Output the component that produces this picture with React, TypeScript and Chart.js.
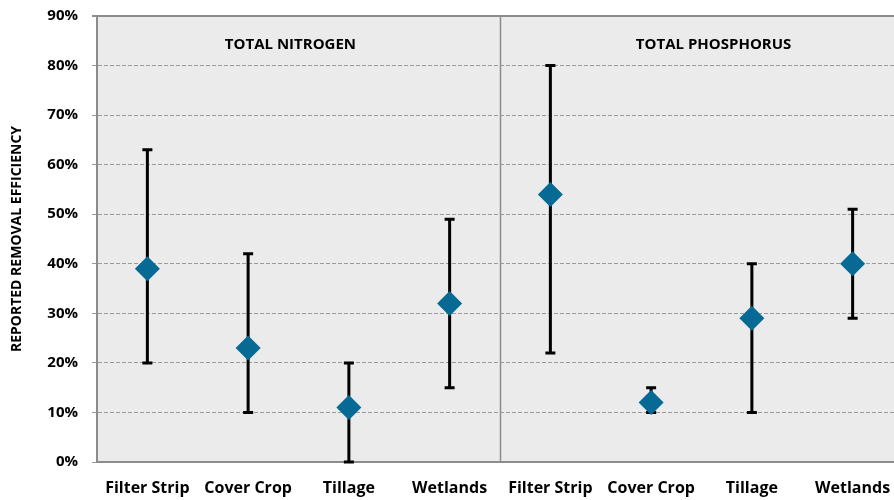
import React, { useEffect, useRef } from "react";
import { Chart, registerables } from "chart.js";

Chart.register(...registerables);

// Practices evaluated for each nutrient (nitrogen first, then phosphorus)
const categories = [
  "Filter Strip", "Cover Crop", "Tillage", "Wetlands",
  "Filter Strip", "Cover Crop", "Tillage", "Wetlands",
];
// Mean reported removal efficiency (%)
const means = [39, 23, 11, 32, 54, 12, 29, 40];
// Lower and upper ends of the reported range (%)
const lows = [20, 10, 0, 15, 22, 10, 10, 29];
const highs = [63, 42, 20, 49, 80, 15, 40, 51];
// Panel headings, one per group of four practices
const panelTitles = ["TOTAL NITROGEN", "TOTAL PHOSPHORUS"];
const groupSize = 4;

const FONT = "'Open Sans', 'Noto Sans', sans-serif";

const panelPlugin = {
  id: "panels",
  beforeDraw(chart: any) {
    const { ctx, chartArea: a } = chart;
    ctx.save();
    ctx.fillStyle = "#EBEBEB";
    ctx.fillRect(a.left, a.top, a.right - a.left, a.bottom - a.top);
    ctx.restore();
  },
  beforeDatasetsDraw(chart: any) {
    const { ctx, chartArea: a, scales } = chart;
    const x = scales.x;
    const y = scales.y;
    ctx.save();
    // solid top frame line
    ctx.strokeStyle = "#8C8C8C";
    ctx.lineWidth = 2;
    ctx.beginPath();
    ctx.moveTo(a.left - 5, a.top);
    ctx.lineTo(a.right, a.top);
    ctx.stroke();
    // divider between the two nutrient panels
    const divX =
      (x.getPixelForValue(groupSize - 1) + x.getPixelForValue(groupSize)) / 2;
    ctx.strokeStyle = "#8C8C8C";
    ctx.lineWidth = 1.5;
    ctx.beginPath();
    ctx.moveTo(Math.round(divX) + 0.5, a.top);
    ctx.lineTo(Math.round(divX) + 0.5, a.bottom);
    ctx.stroke();
    // panel headings, each centred over the middle of its group
    ctx.fillStyle = "#000";
    ctx.font = `bold 15px ${FONT}`;
    ctx.textAlign = "center";
    ctx.textBaseline = "middle";
    const ty = a.top + 29;
    ctx.fillText(panelTitles[0], x.getPixelForValue(1.42), ty);
    ctx.fillText(panelTitles[1], x.getPixelForValue(5.62), ty);
    // range bars
    ctx.strokeStyle = "#000";
    ctx.lineWidth = 3;
    means.forEach((_, i) => {
      const px = x.getPixelForValue(i);
      const yl = y.getPixelForValue(lows[i]);
      const yh = y.getPixelForValue(highs[i]);
      ctx.beginPath();
      ctx.moveTo(px, yl);
      ctx.lineTo(px, yh);
      ctx.moveTo(px - 5, yl);
      ctx.lineTo(px + 5, yl);
      ctx.moveTo(px - 5, yh);
      ctx.lineTo(px + 5, yh);
      ctx.stroke();
    });
    ctx.restore();
  },
};

export default function App() {
  const canvasRef = useRef<HTMLCanvasElement>(null);

  useEffect(() => {
    document.body.style.margin = "0";
    const canvas = canvasRef.current;
    if (!canvas) return;
    const chart = new Chart(canvas, {
      type: "line",
      data: {
        labels: categories,
        datasets: [
          {
            data: means,
            showLine: false,
            pointStyle: "rectRot",
            pointRadius: 12.5,
            pointHoverRadius: 12.5,
            backgroundColor: "#066A95",
            borderColor: "#066A95",
            borderWidth: 0,
          },
        ],
      },
      options: {
        animation: false,
        responsive: false,
        maintainAspectRatio: false,
        layout: {
          autoPadding: false,
          padding: { top: 16, right: 0, left: 0, bottom: 0 },
        },
        plugins: {
          legend: { display: false },
          tooltip: { enabled: false },
        },
        scales: {
          x: {
            type: "category",
            offset: true,
            grid: { display: false, drawTicks: false },
            border: { display: true, color: "#8C8C8C", width: 2 },
            ticks: {
              color: "#000",
              padding: 17,
              maxRotation: 0,
              autoSkip: false,
              font: { family: FONT, size: 16, weight: "bold" },
            },
            afterFit: (s: any) => {
              s.height = 38;
              s.paddingLeft = 0;
              s.paddingRight = 0;
            },
          },
          y: {
            min: 0,
            max: 90,
            ticks: {
              stepSize: 10,
              color: "#000",
              padding: 14,
              font: { family: FONT, size: 15, weight: "bold" },
              callback: (v: any) => `${v}%`,
            },
            grid: {
              color: "#9A9A9A",
              lineWidth: 1,
              tickLength: 5,
            },
            border: { display: true, color: "#8C8C8C", width: 2, dash: [4, 2] },
            title: {
              display: true,
              text: "REPORTED REMOVAL EFFICIENCY",
              color: "#000",
              padding: { top: 9, bottom: 0 },
              font: { family: FONT, size: 14, weight: "bold" },
            },
            afterFit: (s: any) => {
              s.width = 97;
              s.paddingTop = 0;
              s.paddingBottom = 0;
            },
          },
        },
      },
      plugins: [panelPlugin],
    });
    return () => chart.destroy();
  }, []);

  // The plot runs slightly past the right edge of the visible frame.
  return (
    <div style={{ width: 894, height: 500, overflow: "hidden" }}>
      <canvas
        ref={canvasRef}
        width={903}
        height={500}
        style={{ display: "block" }}
      />
    </div>
  );
}
